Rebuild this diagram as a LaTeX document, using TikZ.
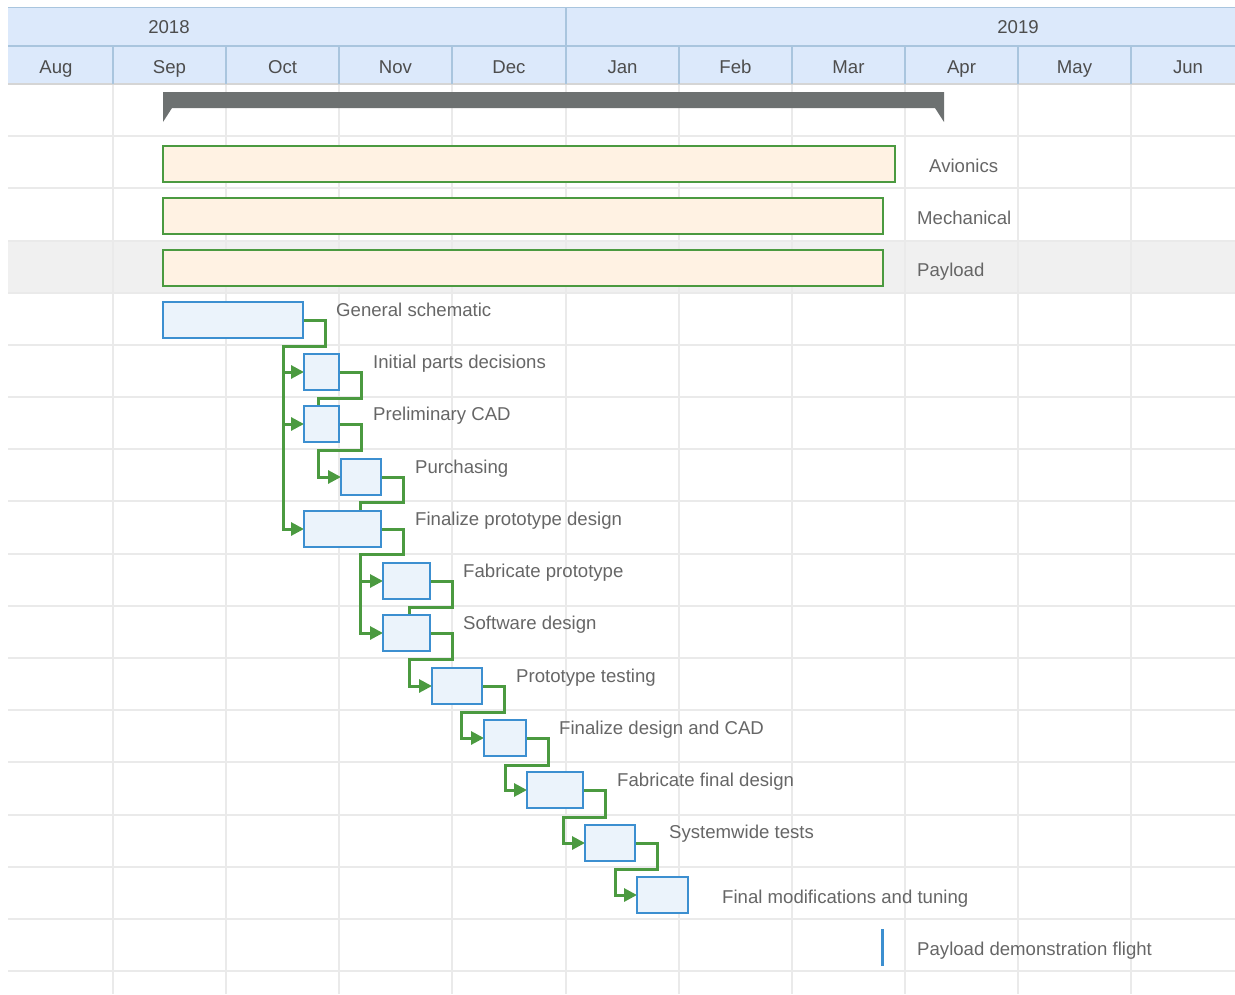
\documentclass[tikz,border=0pt]{standalone}
\usepackage{fontspec}
\setmainfont{Liberation Sans}
\usetikzlibrary{arrows.meta}
\definecolor{headfill}{HTML}{DCE9FB}
\definecolor{headline}{HTML}{A9C5DE}
\definecolor{gridc}{HTML}{EAEAEA}
\definecolor{rowgray}{HTML}{F0F0F0}
\definecolor{sumc}{HTML}{6D7171}
\definecolor{grpfill}{HTML}{FFF2E3}
\definecolor{grn}{HTML}{4B9A40}
\definecolor{taskfill}{HTML}{EBF3FB}
\definecolor{taskline}{HTML}{3C8FD0}
\definecolor{txt}{HTML}{666666}
\definecolor{htxt}{HTML}{4D4D4D}
\tikzset{
  task/.style={draw=taskline, fill=taskfill, line width=2pt, inner sep=0pt, minimum height=36pt},
  grp/.style={draw=grn, fill=grpfill, line width=2pt, inner sep=0pt, minimum height=36pt},
  lbl/.style={anchor=base west, inner sep=0pt, text=txt, font=\fontsize{18.6}{20}\selectfont},
  hlbl/.style={anchor=base, inner sep=0pt, text=htxt, font=\fontsize{18.6}{20}\selectfont},
  conn/.style={draw=grn, line width=3pt, -{Triangle[length=13pt,width=13pt]}},
  connb/.style={draw=grn, line width=3pt},
  gridline/.style={draw=gridc, line width=2pt},
  hline/.style={draw=headline, line width=1.5pt}
}
\begin{document}
\begin{tikzpicture}[x=1pt,y=-1pt]
\useasboundingbox (0,0) rectangle (1235,994);
% payload row background
\fill[rowgray] (8,241) rectangle (1235,294);
% grid
\foreach \k in {1,...,17} {
  \draw[gridline] (8,{84+\k*52.18}) -- (1235,{84+\k*52.18});
}
\foreach \x in {113,226,339,452,566,679,792,905,1018,1131} {
  \draw[gridline] (\x,84) -- (\x,994);
}
% header
\fill[headfill] (8,8) rectangle (1235,84);
\draw[hline] (8,7.5) -- (1235,7.5);
\draw[hline] (8,46) -- (1235,46);
\draw[draw=gridc!80!gray, line width=2pt] (8,84) -- (1235,84);
\draw[hline] (566,8) -- (566,46);
\foreach \x in {113,226,339,452,566,679,792,905,1018,1131} {
  \draw[hline] (\x,46) -- (\x,84);
}
\node[hlbl] (y2018) at (169,33) {2018};
\node[hlbl] (y2019) at (1018,33) {2019};
\node[hlbl] (mAug) at (56,73) {Aug};
\node[hlbl] (mSep) at (169.5,73) {Sep};
\node[hlbl] (mOct) at (282.5,73) {Oct};
\node[hlbl] (mNov) at (395.5,73) {Nov};
\node[hlbl] (mDec) at (509,73) {Dec};
\node[hlbl] (mJan) at (622.5,73) {Jan};
\node[hlbl] (mFeb) at (735.5,73) {Feb};
\node[hlbl] (mMar) at (848.5,73) {Mar};
\node[hlbl] (mApr) at (961.5,73) {Apr};
\node[hlbl] (mMay) at (1074.5,73) {May};
\node[hlbl] (mJun) at (1188,73) {Jun};
% summary bar
\fill[sumc] (163,92) -- (944,92) -- (944,122) -- (935,108) -- (172,108) -- (163,122) -- cycle;
% group bars
\node[grp, minimum width=732pt] (av) at (529,164) {};
\node[grp, minimum width=720pt] (me) at (523,216) {};
\node[grp, minimum width=720pt] (pl) at (523,268) {};
\node[lbl] (avl) at (929,172) {Avionics};
\node[lbl] (mel) at (917,224) {Mechanical};
\node[lbl] (pll) at (917,276) {Payload};
% connectors
\draw[conn] (303,320) -- (325,320) |- (283,346) |- (304,372);
\draw[conn] (283,346) |- (304,424);
\draw[conn] (283,346) |- (304,529);
\draw[connb] (339,372) -- (361,372) |- (318,398) -- (318,407);
\draw[conn] (339,424) -- (361,424) |- (318,450) |- (341,477);
\draw[connb] (381,477) -- (403,477) |- (360,502) -- (360,511);
\draw[conn] (381,529) -- (403,529) |- (360,554) |- (383,581);
\draw[conn] (360,554) |- (383,633);
\draw[connb] (430,581) -- (452,581) |- (409,607) -- (409,616);
\draw[conn] (430,633) -- (452,633) |- (409,659) |- (432,686);
\draw[conn] (482,686) -- (504,686) |- (461,712) |- (484,738);
\draw[conn] (526,738) -- (548,738) |- (505,765) |- (527,790);
\draw[conn] (583,790) -- (605,790) |- (563,817) |- (585,843);
\draw[conn] (635,843) -- (657,843) |- (615,869) |- (637,895);
% tasks
\node[task, minimum width=140pt] (gs) at (233,320) {};
\node[task, minimum width=35pt] (ip) at (321.5,372) {};
\node[task, minimum width=35pt] (pc) at (321.5,424) {};
\node[task, minimum width=40pt] (pu) at (361,477) {};
\node[task, minimum width=77pt] (fp) at (342.5,529) {};
\node[task, minimum width=47pt] (fa) at (406.5,581) {};
\node[task, minimum width=47pt] (sd) at (406.5,633) {};
\node[task, minimum width=50pt] (pt) at (457,686) {};
\node[task, minimum width=42pt] (fd) at (505,738) {};
\node[task, minimum width=56pt] (ff) at (555,790) {};
\node[task, minimum width=50pt] (st) at (610,843) {};
\node[task, minimum width=51pt] (fm) at (662.5,895) {};
\node[fill=taskline, inner sep=0pt, minimum width=3pt, minimum height=37pt] (pd) at (882,947.5) {};
% labels
\node[lbl] (gsl) at (336,316.5) {General schematic};
\node[lbl] (ipl) at (373,368.5) {Initial parts decisions};
\node[lbl] (pcl) at (373,420.5) {Preliminary CAD};
\node[lbl] (pul) at (415,473.5) {Purchasing};
\node[lbl] (fpl) at (415,525.5) {Finalize prototype design};
\node[lbl] (fal) at (463,577.5) {Fabricate prototype};
\node[lbl] (sdl) at (463,629.5) {Software design};
\node[lbl] (ptl) at (516,682.5) {Prototype testing};
\node[lbl] (fdl) at (559,734.5) {Finalize design and CAD};
\node[lbl] (ffl) at (617,786.5) {Fabricate final design};
\node[lbl] (stl) at (669,838.5) {Systemwide tests};
\node[lbl] (fml) at (722,903.5) {Final modifications and tuning};
\node[lbl] (pdl) at (917,955.5) {Payload demonstration flight};
\end{tikzpicture}
\end{document}
